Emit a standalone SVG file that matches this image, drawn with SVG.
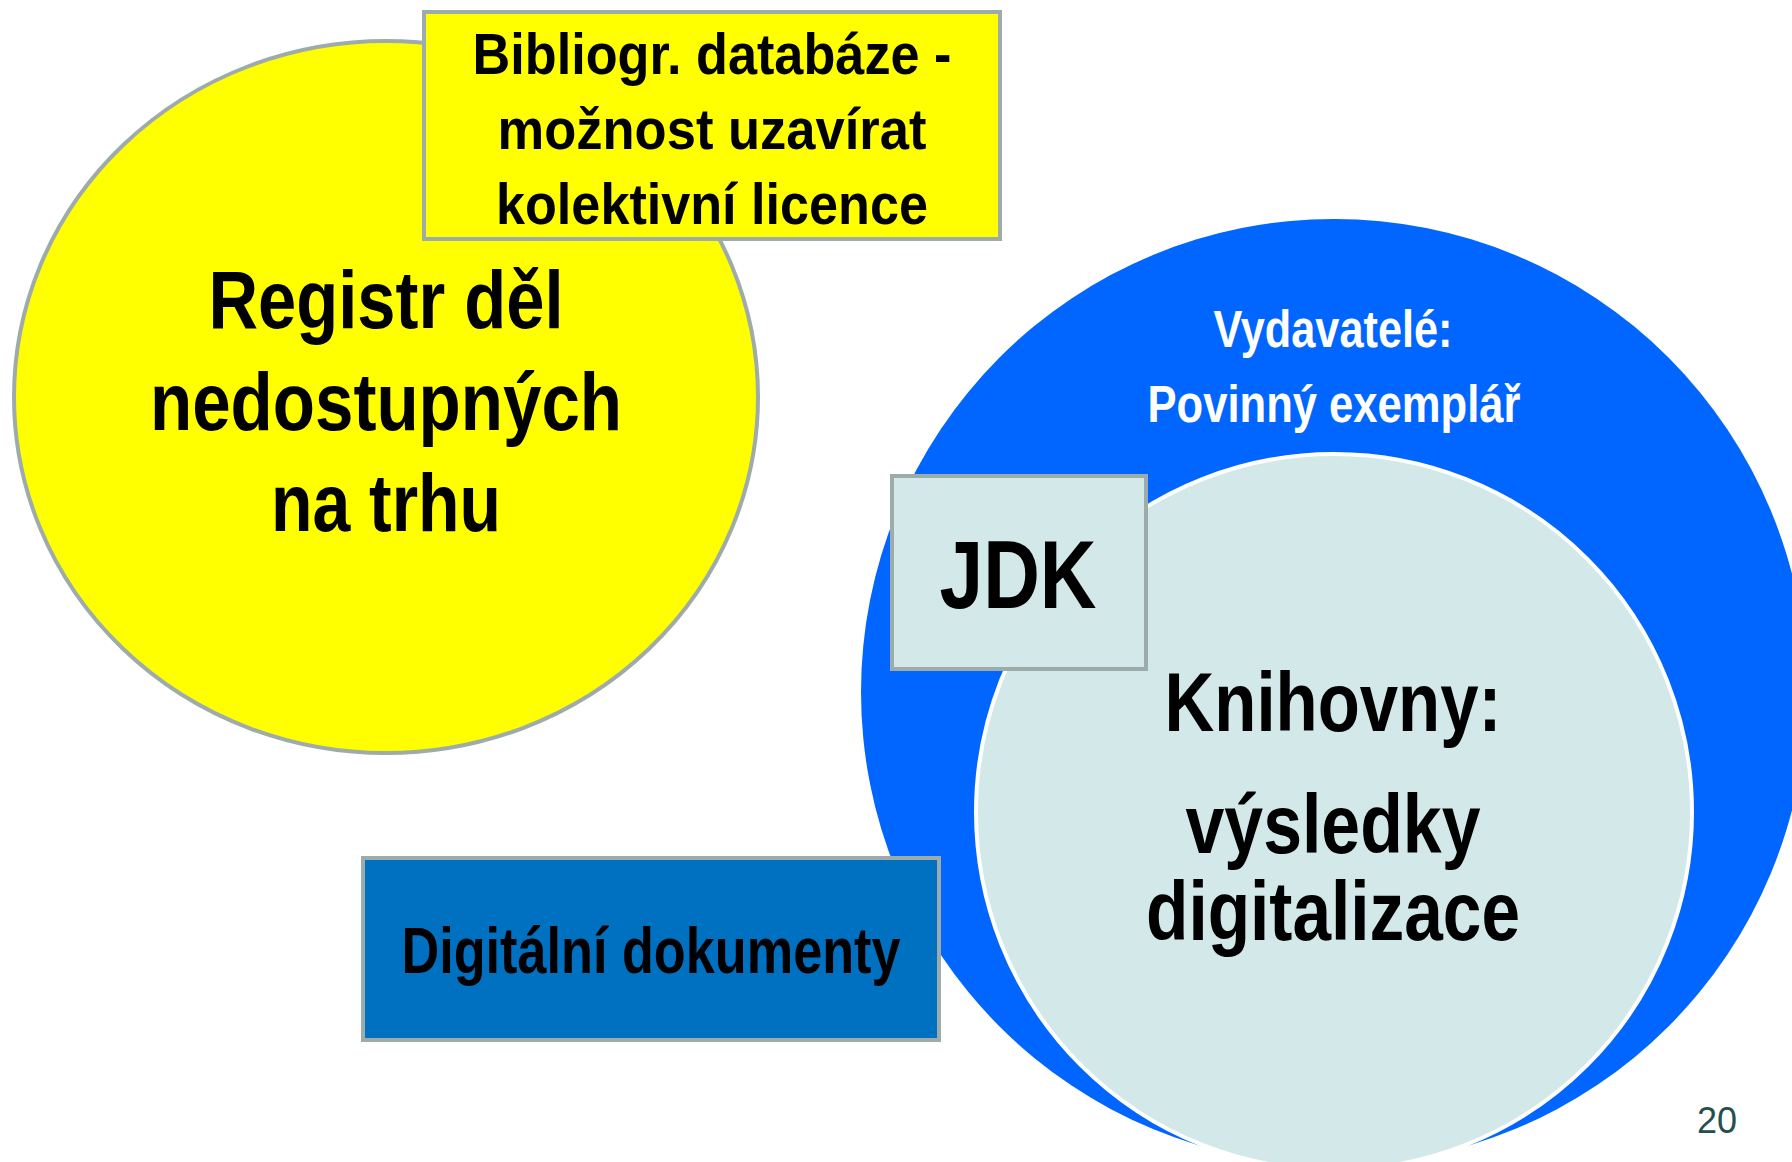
<svg xmlns="http://www.w3.org/2000/svg" width="1792" height="1162" viewBox="0 0 1792 1162">
<style>
.t{font-family:"Liberation Sans Narrow","Liberation Sans",Arial,sans-serif;font-weight:bold;text-anchor:middle;fill:#000}
.w{fill:#fff}
.box{stroke:#9EABAB;stroke-width:4}
</style>
<rect width="1792" height="1162" fill="#fff"/>
<g id="registr">
<ellipse cx="386" cy="397" rx="372" ry="356" fill="#FFFF00" stroke="#9EABAB" stroke-width="4"/>
<text class="t" x="386" y="328" font-size="82" textLength="355" lengthAdjust="spacingAndGlyphs">Registr děl</text>
<text class="t" x="386" y="430" font-size="82" textLength="472" lengthAdjust="spacingAndGlyphs">nedostupných</text>
<text class="t" x="386" y="531" font-size="82" textLength="230" lengthAdjust="spacingAndGlyphs">na trhu</text>
</g>
<g id="bibliogr">
<rect class="box" x="424" y="12" width="576" height="227" fill="#FFFF00"/>
<text class="t" x="712" y="74" font-size="58" textLength="479" lengthAdjust="spacingAndGlyphs">Bibliogr. databáze -</text>
<text class="t" x="712" y="149" font-size="58" textLength="429" lengthAdjust="spacingAndGlyphs">možnost uzavírat</text>
<text class="t" x="712" y="224" font-size="58" textLength="432" lengthAdjust="spacingAndGlyphs">kolektivní licence</text>
</g>
<g id="vydavatele">
<circle cx="1334" cy="692" r="473" fill="#0066FF"/>
<text class="t w" x="1333" y="347" font-size="51" textLength="239" lengthAdjust="spacingAndGlyphs">Vydavatelé:</text>
<text class="t w" x="1334" y="422" font-size="51" textLength="373" lengthAdjust="spacingAndGlyphs">Povinný exemplář</text>
</g>
<g id="knihovny">
<circle cx="1334" cy="812" r="358" fill="#D3E8E8" stroke="#fff" stroke-width="4"/>
<text class="t" x="1333" y="731" font-size="84" textLength="337" lengthAdjust="spacingAndGlyphs">Knihovny:</text>
<text class="t" x="1333" y="853" font-size="84" textLength="295" lengthAdjust="spacingAndGlyphs">výsledky</text>
<text class="t" x="1333" y="940" font-size="84" textLength="374" lengthAdjust="spacingAndGlyphs">digitalizace</text>
</g>
<g id="jdk">
<rect class="box" x="892" y="476" width="254" height="193" fill="#D3E8E8"/>
<text class="t" x="1018" y="608" font-size="96" textLength="157" lengthAdjust="spacingAndGlyphs">JDK</text>
</g>
<g id="digitalni">
<rect class="box" x="363" y="858" width="576" height="182" fill="#0070C0"/>
<text class="t" x="651" y="973" font-size="64" textLength="499" lengthAdjust="spacingAndGlyphs">Digitální dokumenty</text>
</g>
<g id="connectors"/>
<text x="1717" y="1133" font-family="Liberation Sans,Arial,sans-serif" font-size="36" text-anchor="middle" fill="#254E4E">20</text>
</svg>
